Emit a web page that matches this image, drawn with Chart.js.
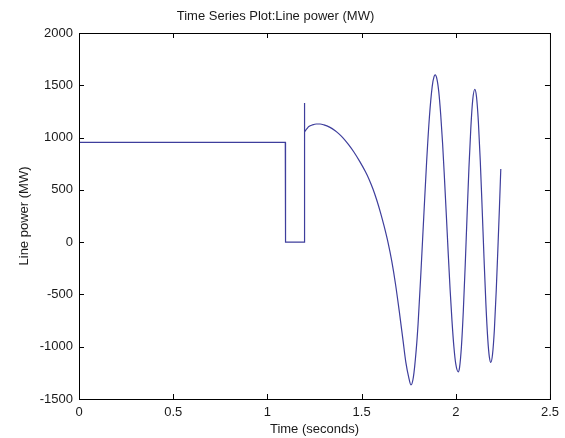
<!DOCTYPE html>
<html>
<head>
<meta charset="utf-8">
<script src="https://cdn.jsdelivr.net/npm/chart.js@4.4.1/dist/chart.umd.min.js"></script>
<style>
  html, body { margin: 0; padding: 0; background: #fff; }
  #wrap { width: 565px; height: 438px; }
</style>
</head>
<body>
<div id="wrap"><canvas id="linePower"></canvas></div>
<script>
'use strict';

// pre-fault, fault and reclosing steps: time (s), line power (MW)
const stepTime  = [0, 1.095, 1.095, 1.097, 1.097, 1.197, 1.197, 1.197, 1.198];
const stepPower = [955, 955, 870, 870, 0, 0, 1330, 910, 1056];

// post-fault power swing: time (s), line power (MW)
const swingTime = [
  1.198, 1.21, 1.22, 1.24, 1.26, 1.28, 1.30, 1.33, 1.36, 1.38, 1.40, 1.43, 1.46, 1.49,
  1.52, 1.54, 1.56, 1.58, 1.60, 1.62, 1.64, 1.66, 1.68, 1.70, 1.72, 1.735, 1.75, 1.762,
  1.775, 1.79, 1.80, 1.815, 1.83, 1.845, 1.86, 1.875, 1.885, 1.891,
  1.90, 1.91, 1.92, 1.93, 1.94, 1.95, 1.96, 1.97, 1.98, 1.99, 2.00, 2.013,
  2.02, 2.03, 2.04, 2.05, 2.06, 2.07, 2.08, 2.09, 2.101,
  2.11, 2.12, 2.13, 2.14, 2.15, 2.16, 2.17, 2.178, 2.186,
  2.195, 2.205, 2.215, 2.225, 2.232, 2.239
];
const swingPower = [
  1056, 1085, 1105, 1122, 1130, 1130, 1122, 1100, 1065, 1035, 1000, 935, 860, 772,
  675, 600, 510, 405, 285, 150, 0, -180, -400, -660, -940, -1150, -1290, -1365,
  -1290, -1030, -780, -290, 240, 760, 1195, 1490, 1585, 1600,
  1560, 1435, 1220, 945, 610, 255, -110, -455, -755, -1000, -1165, -1240,
  -1200, -1000, -660, -225, 255, 715, 1095, 1360, 1460,
  1390, 1150, 780, 325, -155, -595, -930, -1095, -1150,
  -1075, -835, -455, 5, 340, 700
];

const xTickValues = [0, 0.5, 1, 1.5, 2, 2.5];
const yTickValues = [-1500, -1000, -500, 0, 500, 1000, 1500, 2000];

const lineColor = '#3e3e9c';
const textColor = '#1a1a1a';
const fontFamily = '"Liberation Sans", Arial, sans-serif';

const toPoints = (xs, ys) => xs.map((t, i) => ({ x: t, y: ys[i] }));

// MATLAB style box with inward ticks on all four sides
const boxPlugin = {
  id: 'boxPlugin',
  afterDatasetsDraw(chart) {
    const { ctx, chartArea: a, scales: { x, y } } = chart;
    const len = 5;
    ctx.save();
    ctx.strokeStyle = '#000';
    ctx.lineWidth = 1;
    ctx.strokeRect(a.left + 0.5, a.top + 0.5, a.right - a.left, a.bottom - a.top);
    ctx.beginPath();
    xTickValues.forEach(v => {
      const px = Math.round(x.getPixelForValue(v)) + 0.5;
      ctx.moveTo(px, a.bottom); ctx.lineTo(px, a.bottom - len);
      ctx.moveTo(px, a.top); ctx.lineTo(px, a.top + len);
    });
    yTickValues.forEach(v => {
      const py = Math.round(y.getPixelForValue(v)) + 0.5;
      ctx.moveTo(a.left, py); ctx.lineTo(a.left + len, py);
      ctx.moveTo(a.right, py); ctx.lineTo(a.right - len, py);
    });
    ctx.stroke();
    ctx.restore();
  }
};

new Chart('linePower', {
  type: 'line',
  data: {
    datasets: [{
      label: 'steps',
      data: toPoints(stepTime, stepPower),
      borderColor: lineColor,
      borderWidth: 1.2,
      pointRadius: 0,
      tension: 0,
      fill: false
    }, {
      label: 'swing',
      data: toPoints(swingTime, swingPower),
      borderColor: lineColor,
      borderWidth: 1.2,
      pointRadius: 0,
      cubicInterpolationMode: 'monotone',
      fill: false
    }]
  },
  options: {
    responsive: true,
    maintainAspectRatio: false,
    animation: false,
    layout: { padding: { left: 0, right: 14, top: 0, bottom: 0 } },
    plugins: {
      legend: { display: false },
      tooltip: { enabled: false },
      title: {
        display: true,
        text: 'Time Series Plot:Line power (MW)',
        color: textColor,
        font: { family: fontFamily, size: 13, weight: 'normal' },
        padding: { top: 8.5, bottom: 8.9 }
      }
    },
    scales: {
      x: {
        type: 'linear',
        min: 0,
        max: 2.5,
        afterBuildTicks: scale => { scale.ticks = xTickValues.map(v => ({ value: v })); },
        afterFit: scale => { scale.height = 39; },
        grid: { display: false, drawTicks: false },
        border: { display: false },
        ticks: {
          color: textColor,
          padding: 6,
          maxRotation: 0,
          font: { family: fontFamily, size: 13 },
          callback: v => String(v)
        },
        title: {
          display: true,
          text: 'Time (seconds)',
          color: textColor,
          font: { family: fontFamily, size: 13 },
          padding: { top: 0, bottom: 1 }
        }
      },
      y: {
        type: 'linear',
        min: -1500,
        max: 2000,
        afterBuildTicks: scale => { scale.ticks = yTickValues.map(v => ({ value: v })); },
        afterFit: scale => { scale.width = 79; },
        grid: { display: false, drawTicks: false },
        border: { display: false },
        ticks: {
          color: textColor,
          padding: 6,
          font: { family: fontFamily, size: 13 },
          callback: v => String(v)
        },
        title: {
          display: true,
          text: 'Line power (MW)',
          color: textColor,
          font: { family: fontFamily, size: 13 },
          padding: { top: 17, bottom: 0 }
        }
      }
    }
  },
  plugins: [boxPlugin]
});
</script>
</body>
</html>
